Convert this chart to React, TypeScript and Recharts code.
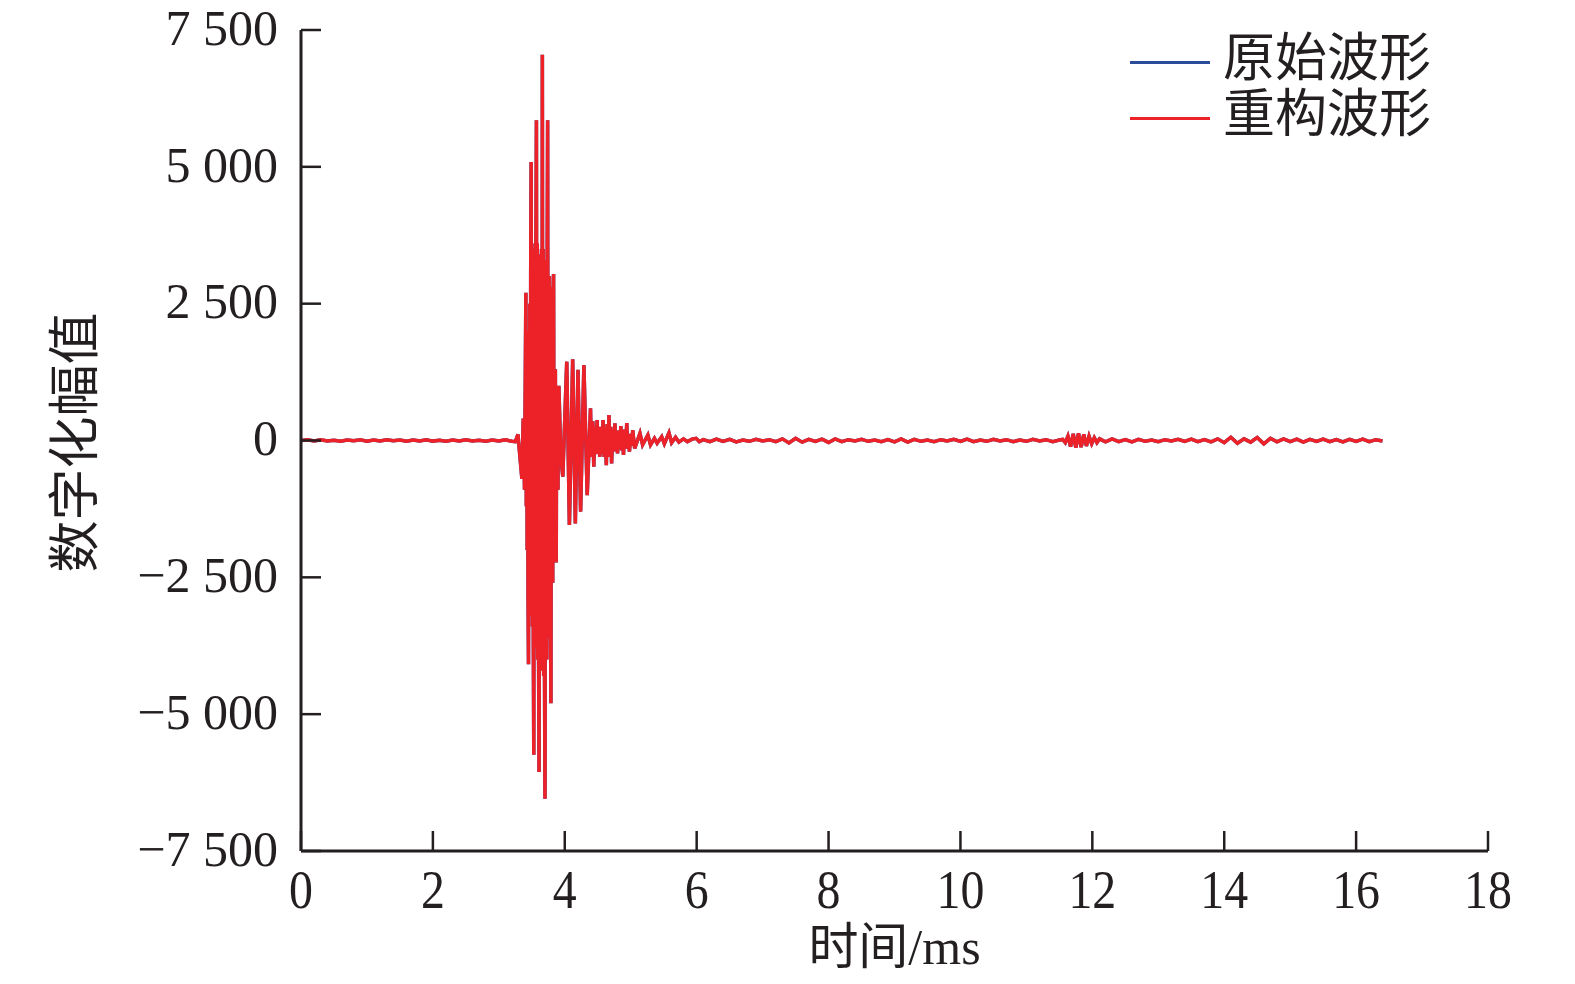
import React from 'react';
import { LineChart, Line, XAxis, YAxis, Legend } from 'recharts';

// Sample times (ms)
const timeMs = [
  0.0, 0.1, 0.2, 0.3, 0.4, 0.5, 0.6, 0.7, 0.8, 0.9,
  1.0, 1.1, 1.2, 1.3, 1.4, 1.5, 1.6, 1.7, 1.8, 1.9,
  2.0, 2.1, 2.2, 2.3, 2.4, 2.5, 2.6, 2.7, 2.8, 2.9,
  3.0, 3.1, 3.2,
  3.25, 3.29, 3.35, 3.37,
  3.39, 3.41, 3.417, 3.423, 3.43, 3.437, 3.443, 3.45,
  3.457, 3.463, 3.47, 3.477, 3.483, 3.49,
  3.497, 3.503, 3.51, 3.517, 3.523, 3.53,
  3.537, 3.543, 3.55, 3.557, 3.563, 3.57,
  3.577, 3.583, 3.59, 3.597, 3.603, 3.61,
  3.617, 3.623, 3.63, 3.637, 3.647, 3.653, 3.66,
  3.667, 3.673, 3.68, 3.687, 3.693, 3.70,
  3.707, 3.713, 3.72, 3.727, 3.733, 3.74,
  3.747, 3.753, 3.76, 3.767, 3.773, 3.78, 3.785, 3.79,
  3.797, 3.803, 3.81, 3.817, 3.823, 3.83,
  3.837, 3.843, 3.85, 3.857, 3.863, 3.87,
  3.877, 3.883, 3.89, 3.897, 3.903, 3.91,
  3.94, 3.97,
  4.03, 4.07, 4.12, 4.16, 4.20, 4.24, 4.29, 4.34,
  4.39, 4.405, 4.425, 4.44, 4.455, 4.475, 4.49, 4.503, 4.517, 4.53,
  4.545, 4.565, 4.58, 4.597, 4.613, 4.63, 4.643, 4.657, 4.67, 4.683,
  4.697, 4.71, 4.727, 4.743, 4.76, 4.773, 4.787, 4.80, 4.817, 4.833,
  4.85, 4.863, 4.877, 4.89, 4.907, 4.923, 4.94, 4.953, 4.967, 4.98,
  5.003, 5.017, 5.03, 5.06,
  5.14, 5.18, 5.26, 5.30, 5.36, 5.40, 5.47, 5.51, 5.58,
  5.62, 5.68, 5.73, 5.80, 5.86, 5.93, 5.99, 6.04,
  6.1, 6.2, 6.3, 6.4, 6.5, 6.6, 6.7, 6.8, 6.9, 7.0,
  7.1, 7.2, 7.3, 7.4, 7.5, 7.6, 7.7, 7.8, 7.9, 8.0,
  8.1, 8.2, 8.3, 8.4, 8.5, 8.6, 8.7, 8.8, 8.9, 9.0,
  9.1, 9.2, 9.3, 9.4, 9.5, 9.6, 9.7, 9.8, 9.9, 10.0,
  10.1, 10.2, 10.3, 10.4, 10.5, 10.6, 10.7, 10.8, 10.9, 11.0,
  11.1, 11.2, 11.3, 11.4, 11.5,
  11.55, 11.59, 11.63, 11.67, 11.71, 11.75, 11.79, 11.83, 11.87, 11.91,
  11.95, 11.99, 12.03, 12.07, 12.11,
  12.2, 12.3, 12.4, 12.5, 12.6, 12.7, 12.8, 12.9, 13.0, 13.1,
  13.2, 13.3, 13.4, 13.5, 13.6, 13.7, 13.8, 13.9, 14.0, 14.1,
  14.2, 14.3, 14.4, 14.5, 14.6, 14.7, 14.8, 14.9, 15.0, 15.1,
  15.2, 15.3, 15.4, 15.5, 15.6, 15.7, 15.8, 15.9, 16.0, 16.1,
  16.2, 16.3, 16.4,
];

const originalWave = [
  0, 12, -8, 15, -10, 6, -14, 10, -6, 12,
  -12, 8, -10, 14, -6, 10, -15, 8, -9, 12,
  -11, 6, -13, 9, -7, 14, -10, 5, -12, 10,
  -8, 12, -15,
  -20, 110, -700, 400,
  -900, 2700, -1200, 1800, -2000, 2000, -2800, -4090,
  2000, -3000, 2500, -3200, 3000, 5090,
  -3000, 3200, -3400, 3500, -3600, -5740,
  3500, -3800, 3600, -3800, 3700, 5850,
  -3800, 3600, -4000, 3400, -4000, -6055,
  3400, -4000, 3200, -4200, 3500, -4200, 7050,
  -4200, 3500, -4300, 3300, -4300, -6545,
  3300, -4000, 3300, -4000, 3200, 5850,
  -3600, 3000, -3600, 3000, -3500, 2800, -3500, -4800,
  2500, -2600, 2600, -2600, 2500, 3040,
  -1600, 1300, -1800, 1300, -1800, -2230,
  900, -900, 900, -900, 800, 1000,
  -300, -660,
  1440, -1545, 1485, -1515, 1290, -1300, 1380, -1000,
  590, -300, 350, -480, 250, -250, 375, -200, 250, -300,
  250, -250, 375, -300, 250, -450, 300, -300, 465, -300,
  250, -420, 200, -200, 315, -150, 150, -235, 180, -150,
  265, -180, 150, -265, 200, -150, 320, -150, 120, -205,
  120, -100, 190, -145,
  130, -80, 100, -80, 40, -50, 70, -60, 140,
  -40, 60, -30, 30, -20, 25, 40, -20,
  15, -20, 25, -15, 20, -25, 10, -15, 20, -10,
  15, -20, 30, -45, 40, -30, 20, -15, 25, -35,
  30, -20, 15, -10, 20, -15, 10, -20, 15, -25,
  30, -30, 20, -15, 10, -20, 15, -10, 20, -15,
  25, -20, 10, -15, 20, -10, 15, -20, 10, -15,
  20, -10, 15, -20, 10,
  20, -40, 80, -110, 120, -130, 130, -120, 110, -100,
  80, -60, 50, -40, 30,
  -25, 30, -20, 15, -25, 20, -15, 10, -20, 15,
  -10, 20, -15, 25, -20, 15, -25, 30, -40, 60,
  -50, 30, -30, 55, -60, 40, -25, 30, -20, 25,
  -30, 20, -15, 25, -20, 15, -25, 20, -15, 25,
  -20, 15, -10,
];

// 重构波形: overlaps the original everywhere at this scale
const reconstructedWave = originalWave.slice();

const xTicks = [0, 2, 4, 6, 8, 10, 12, 14, 16, 18];
const yTicks = [-7500, -5000, -2500, 0, 2500, 5000, 7500];
const seriesNames = ['原始波形', '重构波形'];
const seriesColors = ['#2b4c9b', '#ec2228'];

const data = timeMs.map((t, i) => ({
  t,
  original: originalWave[i],
  reconstructed: reconstructedWave[i],
}));

const INK = '#231f20';

const formatY = (v: number) => {
  if (v === 0) return '0';
  const a = Math.abs(v);
  const s = Math.floor(a / 1000) + ' ' + String(a % 1000).padStart(3, '0');
  return (v < 0 ? '\u2212' : '') + s;
};

const XTick = (props: any) => {
  const { x, y, payload } = props;
  return (
    <g transform={`translate(${x},${y})`}>
      <text
        transform="scale(0.87,1)"
        textAnchor="middle"
        dy="0.71em"
        fontFamily="'Liberation Serif', serif"
        fontSize={55}
        fill={INK}
      >
        {payload.value}
      </text>
    </g>
  );
};

const YTick = (props: any) => {
  const { x, y, payload } = props;
  return (
    <text
      x={x}
      y={y - 3}
      dy="0.355em"
      textAnchor="end"
      fontFamily="'Liberation Serif', serif"
      fontSize={50}
      fill={INK}
    >
      {formatY(payload.value)}
    </text>
  );
};

const YLabel = (props: any) => {
  const vb = props.viewBox || {};
  const cx = (vb.x || 0) + 62;
  const cy = (vb.y || 0) + (vb.height || 0) / 2 + 2;
  return (
    <text
      x={cx}
      y={cy}
      transform={`rotate(-90, ${cx}, ${cy})`}
      textAnchor="middle"
      dominantBaseline="central"
      fontFamily="'Noto Sans CJK SC', sans-serif"
      fontSize={52}
      fill={INK}
    >
      数字化幅值
    </text>
  );
};

const XLabel = (props: any) => {
  const vb = props.viewBox || {};
  const cx = (vb.x || 0) + (vb.width || 0) / 2;
  const by = (vb.y || 0) + 113;
  return (
    <text
      x={cx}
      y={by}
      textAnchor="middle"
      fontFamily="'Liberation Serif', 'Noto Sans CJK SC', serif"
      fontSize={50}
      fill={INK}
    >
      时间/ms
    </text>
  );
};

const LegendContent = () => (
  <div style={{ fontFamily: "'Noto Sans CJK SC', sans-serif", fontSize: 52, color: INK }}>
    {seriesNames.map((n, i) => (
      <div key={n} style={{ display: 'flex', alignItems: 'center', height: 56, whiteSpace: 'nowrap' }}>
        <div style={{ width: 80, height: 3, background: seriesColors[i], marginRight: 13 }} />
        <span style={{ lineHeight: '52px', position: 'relative', top: -8 }}>{n}</span>
      </div>
    ))}
  </div>
);

export default function App() {
  return (
    <div style={{ width: 1560, height: 968, background: '#fff' }}>
      <LineChart
        width={1560}
        height={968}
        data={data}
        margin={{ top: 22, right: 80, bottom: 0, left: 0 }}
      >
        <XAxis
          type="number"
          dataKey="t"
          domain={[0, 18]}
          ticks={xTicks}
          interval={0}
          height={125}
          tickSize={-20}
          tickMargin={38}
          axisLine={{ stroke: INK, strokeWidth: 3 }}
          tickLine={{ stroke: INK, strokeWidth: 2.5 }}
          tick={<XTick />}
          label={{ content: <XLabel /> }}
        />
        <YAxis
          type="number"
          domain={[-7500, 7500]}
          ticks={yTicks}
          interval={0}
          width={293}
          tickSize={-20}
          tickMargin={43}
          allowDataOverflow
          axisLine={{ stroke: INK, strokeWidth: 3 }}
          tickLine={{ stroke: INK, strokeWidth: 2.5 }}
          tick={<YTick />}
          label={{ content: <YLabel /> }}
        />
        <Legend
          layout="horizontal"
          verticalAlign="middle"
          align="center"
          wrapperStyle={{ top: 26, left: 1122, width: 'auto' }}
          content={<LegendContent />}
        />
        <Line
          type="linear"
          dataKey="original"
          name={seriesNames[0]}
          stroke={seriesColors[0]}
          strokeWidth={3.5}
          dot={false}
          isAnimationActive={false}
        />
        <Line
          type="linear"
          dataKey="reconstructed"
          name={seriesNames[1]}
          stroke={seriesColors[1]}
          strokeWidth={3.5}
          dot={false}
          isAnimationActive={false}
        />
      </LineChart>
    </div>
  );
}
